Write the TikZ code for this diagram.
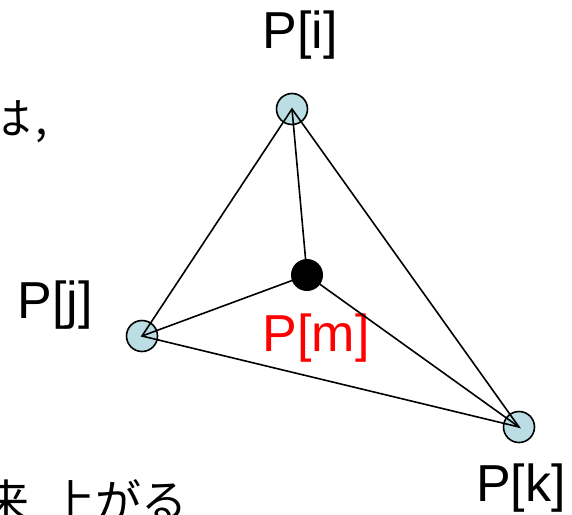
\documentclass[tikz,border=0pt]{standalone}
\usepackage{fontspec}
\setmainfont{Liberation Sans}
\newfontfamily\jpfont{Noto Sans CJK JP}
\usepackage{tikz}
\usetikzlibrary{positioning}
\usepackage{xcolor}
\definecolor{ink}{RGB}{0,0,0}
\definecolor{pale}{RGB}{186,222,227}
\definecolor{lblred}{RGB}{255,0,0}
\pgfdeclarelayer{front}
\pgfsetlayers{main,front}
\tikzset{
  pt/.style={circle,draw=ink,fill=pale,line width=1.6pt,minimum size=31pt,inner sep=0pt},
  dot/.style={circle,fill=ink,minimum size=32pt,inner sep=0pt},
  lbl/.style={anchor=base,inner sep=0pt,font=\fontsize{52}{52}\selectfont},
  edge/.style={line width=1.6pt,ink},
  jtxt/.style={anchor=base east,inner sep=0pt},
}

\begin{document}
\begin{tikzpicture}[x=1pt,y=-1pt]
  \path[use as bounding box,clip] (0,0) rectangle (572,514);

  % cut-off text at the left edge
  \node[jtxt,font=\fontsize{44}{44}\selectfont\jpfont] (txttop) at (48,134) {は\kern4pt,};
  \node[jtxt,font=\fontsize{46}{46}\selectfont\jpfont] (txtbot) at (188,518) {来\kern20pt上がる};

  % points
  \node[pt] (pi) at (292,109) {};
  \node[pt] (pj) at (142,336) {};
  \node[pt] (pk) at (519,427) {};
  \begin{pgfonlayer}{front}
    \node[dot] (pm) at (307,275) {};
  \end{pgfonlayer}

  \node[lbl] (li) at (300,48) {P[i]};
  \node[lbl] (lj) at (55,318) {P[j]};
  \node[lbl,text=lblred] (lm) at (316,351) {P[m]};
  \node[lbl] (lk) at (521,501) {P[k]};

  \draw[edge] (pi.center) -- (pj.center) -- (pk.center) -- cycle;
  \draw[edge] (pi.center) -- (pm.center);
  \draw[edge] (pj.center) -- (pm.center);
  \draw[edge] (pk.center) -- (pm.center);
\end{tikzpicture}
\end{document}
